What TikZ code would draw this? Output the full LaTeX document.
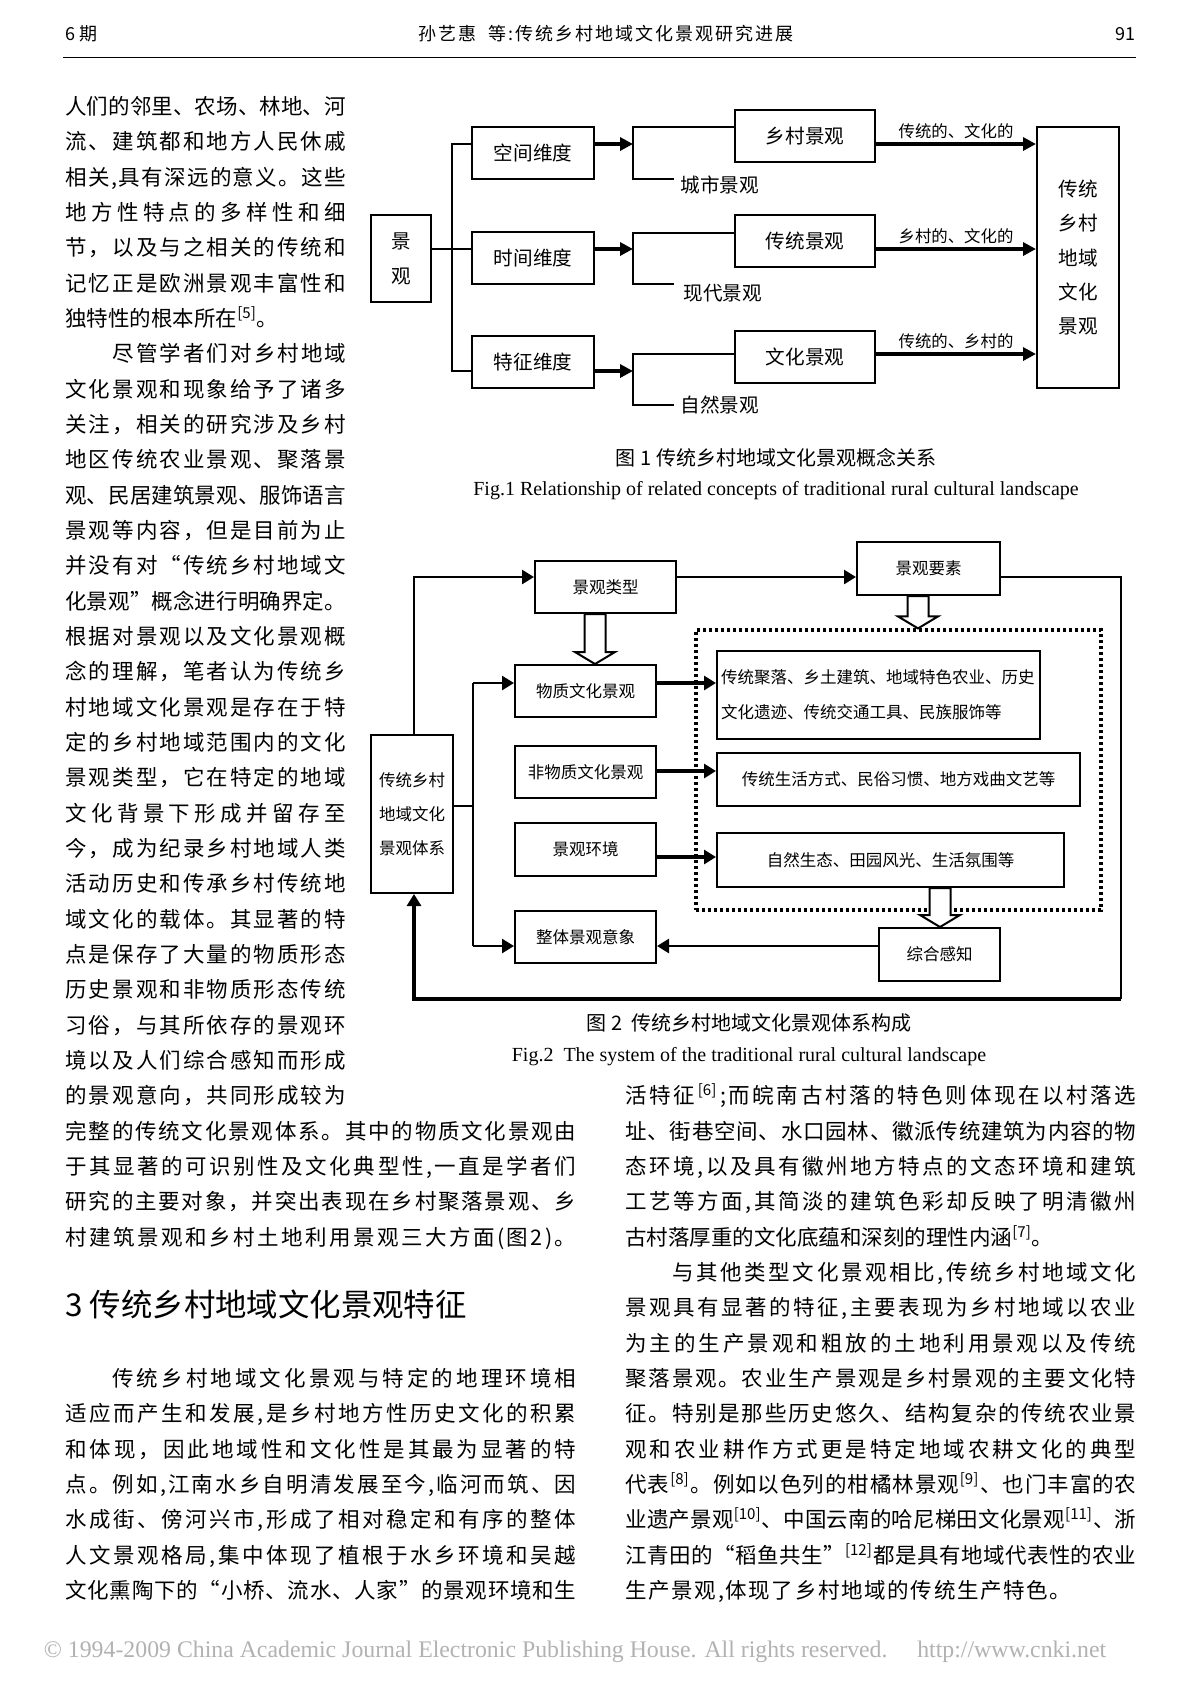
\documentclass[tikz,border=0pt]{standalone}
\usepackage{fontspec}
\setmainfont{Liberation Serif}
\newfontfamily\cjk{Noto Sans CJK SC}
\usetikzlibrary{arrows.meta,calc}

\newdimen\pxu \pxu=0.5pt
\def\spreadend{spreadend}
\def\spreadsep{\hfil}
\def\spreadchars#1{#1\spreadnext}
\def\spreadnext#1{\ifx\spreadend#1\else\spreadsep#1\expandafter\spreadnext\fi}
\def\rfv{\textsuperscript{[5]}}
\def\rfvi{\textsuperscript{[6]}}
\def\rfvii{\textsuperscript{[7]}}
\def\rfviii{\textsuperscript{[8]}}
\def\rfix{\textsuperscript{[9]}}
\def\rfx{\textsuperscript{[10]}}
\def\rfxi{\textsuperscript{[11]}}
\def\rfxii{\textsuperscript{[12]}}
\def\hsp{\hskip8\pxu}
\newcommand\jline[5]{\node[body,anchor=base west] (#1) at (#2,{114.5+35.33*#3}) {\makebox[#4\pxu][s]{\spreadchars#5\spreadend}};}
\newcommand\hollowdown[2]{\draw[hollow] ([xshift=-10.5\pxu]#1) -- ([xshift=-10.5\pxu,yshift=12\pxu]#2) -- ([xshift=-20\pxu,yshift=12\pxu]#2) -- (#2) -- ([xshift=20\pxu,yshift=12\pxu]#2) -- ([xshift=10.5\pxu,yshift=12\pxu]#2) -- ([xshift=10.5\pxu]#1) -- cycle;}

\tikzset{
  body/.style={inner sep=0pt,font=\cjk\fontsize{10.75pt}{13pt}\selectfont},
  hdr/.style={inner sep=0pt,font=\cjk\fontsize{9pt}{11pt}\selectfont},
  bx1/.style={draw,line width=1pt,minimum width=122\pxu,minimum height=52\pxu,inner sep=0pt,font=\cjk\fontsize{9.8pt}{12pt}\selectfont},
  bx2/.style={draw,line width=1pt,minimum width=141\pxu,minimum height=52\pxu,inner sep=0pt,font=\cjk\fontsize{8.25pt}{10pt}\selectfont},
  thin1/.style={line width=0.8pt},
  fat1/.style={line width=2pt,-{Triangle[length=6.5pt,width=6.5pt]}},
  arr2/.style={line width=1.3pt,-{Triangle[length=6pt,width=7pt]}},
  elab/.style={above,inner sep=1.5pt,font=\cjk\fontsize{8.2pt}{10pt}\selectfont},
  lab1/.style={anchor=west,inner sep=0pt,font=\cjk\fontsize{9.8pt}{12pt}\selectfont},
  dotbox/.style={draw,line width=1.6pt,dash pattern=on 1.6pt off 1.4pt,inner sep=0pt},
  hollow/.style={draw,line width=1pt,fill=white},
  capc/.style={inner sep=0pt,font=\cjk\fontsize{10pt}{12pt}\selectfont},
  cape/.style={inner sep=0pt,font=\fontsize{10pt}{12pt}\selectfont}
}

\begin{document}
\begin{tikzpicture}[x=0.5pt,y=-0.5pt,line join=miter]
\useasboundingbox[fill=white] (0,0) rectangle (1200,1705);

\node[hdr,anchor=base west] (hno) at (65,40) {6 期};
\node[hdr,anchor=base] (htitle) at (606,40) {\makebox[375\pxu][s]{\spreadchars 孙艺惠\hsp 等:传统乡村地域文化景观研究进展\spreadend}};
\node[hdr,anchor=base east] (hpage) at (1136,40) {91};
\draw[line width=0.5pt] (63,57) -- (1136,57);

% figure 1
\node[bx1,minimum width=60\pxu,minimum height=87\pxu,align=center,font=\cjk\fontsize{9.8pt}{17.5pt}\selectfont] (jg) at (401,258.5) {景\\观};
\node[bx1] (kj) at (533,153) {空间维度};
\node[bx1] (sj) at (533,258) {时间维度};
\node[bx1] (tz) at (533,362) {特征维度};
\node[bx1,minimum width=140\pxu] (xc) at (805,136) {乡村景观};
\node[bx1,minimum width=140\pxu] (ct) at (805,241) {传统景观};
\node[bx1,minimum width=140\pxu] (wh) at (805,357) {文化景观};
\node[bx1,minimum width=82\pxu,minimum height=261\pxu,align=center,font=\cjk\fontsize{9.8pt}{17.25pt}\selectfont] (big) at (1078,257.5) {传统\\乡村\\地域\\文化\\景观};
\node[lab1] (cs) at (680,185) {城市景观};
\node[lab1] (xd) at (683,293) {现代景观};
\node[lab1] (zr) at (680,405) {自然景观};

\coordinate (ta) at (452,144);
\coordinate (tb) at (452,249);
\coordinate (tc) at (452,371);
\draw[thin1] (kj.west |- ta) -- (ta) -- (tc) -- (tz.west |- tc);
\draw[thin1] (jg.east |- tb) -- (sj.west |- tb);

\coordinate (ba) at (633,144);
\coordinate (bat) at (633,127);
\coordinate (bab) at (674,179);
\coordinate (bb) at (633,249);
\coordinate (bbt) at (633,233);
\coordinate (bbb) at (674,284);
\coordinate (bc) at (633,371);
\coordinate (bct) at (633,354);
\coordinate (bcb) at (674,405);
\draw[fat1] (kj.east |- ba) -- (ba);
\draw[fat1] (sj.east |- bb) -- (bb);
\draw[fat1] (tz.east |- bc) -- (bc);
\draw[thin1] (xc.west |- bat) -- (bat) -- (bat |- bab) -- (bab);
\draw[thin1] (ct.west |- bbt) -- (bbt) -- (bbt |- bbb) -- (bbb);
\draw[thin1] (wh.west |- bct) -- (bct) -- (bct |- bcb) -- (bcb);

\coordinate (qa) at (0,144);
\coordinate (qb) at (0,249);
\coordinate (qc) at (0,354);
\draw[fat1] (xc.east |- qa) -- node[elab] (la) {传统的、文化的} (big.west |- qa);
\draw[fat1] (ct.east |- qb) -- node[elab] (lb) {乡村的、文化的} (big.west |- qb);
\draw[fat1] (wh.east |- qc) -- node[elab] (lc) {传统的、乡村的} (big.west |- qc);

\node[capc] (cap1) at (776,458) {图 1 传统乡村地域文化景观概念关系};
\node[cape] (cap1e) at (776,491) {Fig.1 Relationship of related concepts of traditional rural cultural landscape};

% figure 2
\node[dotbox,minimum width=405\pxu,minimum height=280\pxu] (dz) at (898.5,770) {};
\node[bx2] (lx) at (605.5,587) {景观类型};
\node[bx2,minimum width=143\pxu,minimum height=53\pxu] (ys) at (928.5,568.5) {景观要素};
\node[bx2,minimum width=82\pxu,minimum height=158\pxu,align=center,font=\cjk\fontsize{8.25pt}{17pt}\selectfont] (tx) at (412,814) {传统乡村\\地域文化\\景观体系};
\node[bx2] (wz) at (585.5,691) {物质文化景观};
\node[bx2] (fw) at (585.5,772) {非物质文化景观};
\node[bx2,minimum height=53\pxu] (hj) at (585.5,849.5) {景观环境};
\node[bx2] (zt) at (585.5,937) {整体景观意象};
\node[bx2,minimum width=121\pxu,minimum height=53\pxu] (zh) at (939.5,954.5) {综合感知};
\node[bx2,minimum width=323\pxu,minimum height=88\pxu,text width=315\pxu,inner xsep=4\pxu,align=left,font=\cjk\fontsize{8.25pt}{17.5pt}\selectfont] (c1) at (878.5,695) {传统聚落、乡土建筑、地域特色农业、历史\\文化遗迹、传统交通工具、民族服饰等};
\node[bx2,minimum width=363\pxu,minimum height=53\pxu] (c2) at (898.5,779.5) {传统生活方式、民俗习惯、地方戏曲文艺等};
\node[bx2,minimum width=347\pxu,minimum height=54\pxu] (c3) at (890.5,860) {自然生态、田园风光、生活氛围等};

\coordinate (tl) at (414,577);
\coordinate (ne) at (1121,577);
\coordinate (se) at (1121,999);
\coordinate (sw) at (414,999);
\draw[arr2] (tl |- tx.north) -- (tl) -- (lx.west |- tl);
\draw[arr2] (lx.east |- tl) -- (ys.west |- tl);
\draw[line width=1pt] (ys.east |- ne) -- (ne) -- (se);
\draw[arr2,line width=1.6pt] (se) -- (sw) -- (sw |- tx.south);

\coordinate (bm) at (473,806);
\coordinate (bu) at (473,683);
\coordinate (bd) at (473,946);
\draw[thin1,line width=1pt] (tx.east |- bm) -- (bm);
\draw[line width=1pt] (bu) -- (bd);
\draw[arr2] (bu) -- (wz.west |- bu);
\draw[arr2] (bd) -- (zt.west |- bd);

\coordinate (p1) at (0,683);
\coordinate (p2) at (0,771);
\coordinate (p3) at (0,857);
\draw[arr2,line width=1.6pt] (wz.east |- p1) -- (c1.west |- p1);
\draw[arr2,line width=1.6pt] (fw.east |- p2) -- (c2.west |- p2);
\draw[arr2,line width=1.6pt] (hj.east |- p3) -- (c3.west |- p3);
\draw[arr2] (zh.west |- bd) -- (zt.east |- bd);

\coordinate (h1) at (595,0);
\coordinate (h2) at (918,0);
\coordinate (h3) at (940,0);
\coordinate (h1s) at (h1 |- lx.south);
\coordinate (h1t) at (h1 |- wz.north);
\coordinate (h2s) at (h2 |- ys.south);
\coordinate (h2t) at (h2 |- dz.north);
\coordinate (h3s) at (h3 |- c3.south);
\coordinate (h3t) at (h3 |- zh.north);
\hollowdown{h1s}{h1t}
\hollowdown{h2s}{h2t}
\hollowdown{h3s}{h3t}

\node[capc] (cap2) at (749,1023) {图 2\ \ 传统乡村地域文化景观体系构成};
\node[cape] (cap2e) at (749,1057) {Fig.2\ \ The system of the traditional rural cultural landscape};

% text
\jline{l0}{65}{0}{280.5}{人们的邻里、农场、林地、河}
\jline{l1}{65}{1}{280.5}{流、建筑都和地方人民休戚}
\jline{l2}{65}{2}{280.5}{相关,具有深远的意义。这些}
\jline{l3}{65}{3}{280.5}{地方性特点的多样性和细}
\jline{l4}{65}{4}{280.5}{节，以及与之相关的传统和}
\jline{l5}{65}{5}{280.5}{记忆正是欧洲景观丰富性和}
\jline{l6}{65}{6}{209}{独特性的根本所在\rfv 。}
\jline{l7}{112}{7}{234}{尽管学者们对乡村地域}
\jline{l8}{65}{8}{280.5}{文化景观和现象给予了诸多}
\jline{l9}{65}{9}{280.5}{关注，相关的研究涉及乡村}
\jline{l10}{65}{10}{280.5}{地区传统农业景观、聚落景}
\jline{l11}{65}{11}{280.5}{观、民居建筑景观、服饰语言}
\jline{l12}{65}{12}{280.5}{景观等内容，但是目前为止}
\jline{l13}{65}{13}{280.5}{并没有对“传统乡村地域文}
\jline{l14}{65}{14}{280.5}{化景观”概念进行明确界定。}
\jline{l15}{65}{15}{280.5}{根据对景观以及文化景观概}
\jline{l16}{65}{16}{280.5}{念的理解，笔者认为传统乡}
\jline{l17}{65}{17}{280.5}{村地域文化景观是存在于特}
\jline{l18}{65}{18}{280.5}{定的乡村地域范围内的文化}
\jline{l19}{65}{19}{280.5}{景观类型，它在特定的地域}
\jline{l20}{65}{20}{280.5}{文化背景下形成并留存至}
\jline{l21}{65}{21}{280.5}{今，成为纪录乡村地域人类}
\jline{l22}{65}{22}{280.5}{活动历史和传承乡村传统地}
\jline{l23}{65}{23}{280.5}{域文化的载体。其显著的特}
\jline{l24}{65}{24}{280.5}{点是保存了大量的物质形态}
\jline{l25}{65}{25}{280.5}{历史景观和非物质形态传统}
\jline{l26}{65}{26}{280.5}{习俗，与其所依存的景观环}
\jline{l27}{65}{27}{280.5}{境以及人们综合感知而形成}
\jline{l28}{65}{28}{280.5}{的景观意向，共同形成较为}
\jline{l29}{65}{29}{511}{完整的传统文化景观体系。其中的物质文化景观由}
\jline{l30}{65}{30}{511}{于其显著的可识别性及文化典型性,一直是学者们}
\jline{l31}{65}{31}{511}{研究的主要对象，并突出表现在乡村聚落景观、乡}
\jline{l32}{65}{32}{511}{村建筑景观和乡村土地利用景观三大方面(图2)。}
\node[anchor=base west,inner sep=0pt,font=\cjk\fontsize{15.7pt}{18pt}\selectfont] (sec3) at (65,1316) {3 传统乡村地域文化景观特征};
\jline{l36}{112}{36}{464}{传统乡村地域文化景观与特定的地理环境相}
\jline{l37}{65}{37}{511}{适应而产生和发展,是乡村地方性历史文化的积累}
\jline{l38}{65}{38}{511}{和体现，因此地域性和文化性是其最为显著的特}
\jline{l39}{65}{39}{511}{点。例如,江南水乡自明清发展至今,临河而筑、因}
\jline{l40}{65}{40}{511}{水成街、傍河兴市,形成了相对稳定和有序的整体}
\jline{l41}{65}{41}{511}{人文景观格局,集中体现了植根于水乡环境和吴越}
\jline{l42}{65}{42}{511}{文化熏陶下的“小桥、流水、人家”的景观环境和生}

\jline{r28}{625}{28}{511}{活特征\rfvi ;而皖南古村落的特色则体现在以村落选}
\jline{r29}{625}{29}{511}{址、街巷空间、水口园林、徽派传统建筑为内容的物}
\jline{r30}{625}{30}{511}{态环境,以及具有徽州地方特点的文态环境和建筑}
\jline{r31}{625}{31}{511}{工艺等方面,其简淡的建筑色彩却反映了明清徽州}
\jline{r32}{625}{32}{422}{古村落厚重的文化底蕴和深刻的理性内涵\rfvii 。}
\jline{r33}{672}{33}{464}{与其他类型文化景观相比,传统乡村地域文化}
\jline{r34}{625}{34}{511}{景观具有显著的特征,主要表现为乡村地域以农业}
\jline{r35}{625}{35}{511}{为主的生产景观和粗放的土地利用景观以及传统}
\jline{r36}{625}{36}{511}{聚落景观。农业生产景观是乡村景观的主要文化特}
\jline{r37}{625}{37}{511}{征。特别是那些历史悠久、结构复杂的传统农业景}
\jline{r38}{625}{38}{511}{观和农业耕作方式更是特定地域农耕文化的典型}
\jline{r39}{625}{39}{511}{代表\rfviii 。例如以色列的柑橘林景观\rfix 、也门丰富的农}
\jline{r40}{625}{40}{511}{业遗产景观\rfx 、中国云南的哈尼梯田文化景观\rfxi 、浙}
\jline{r41}{625}{41}{511}{江青田的“稻鱼共生”\rfxii 都是具有地域代表性的农业}
\jline{r42}{625}{42}{446}{生产景观,体现了乡村地域的传统生产特色。}

\node[inner sep=0pt,text=black!30,font=\fontsize{11.9pt}{13pt}\selectfont] (foot) at (575,1652) {© 1994-2009 China Academic Journal Electronic Publishing House. All rights reserved.\quad\ http://www.cnki.net};
\end{tikzpicture}
\end{document}
